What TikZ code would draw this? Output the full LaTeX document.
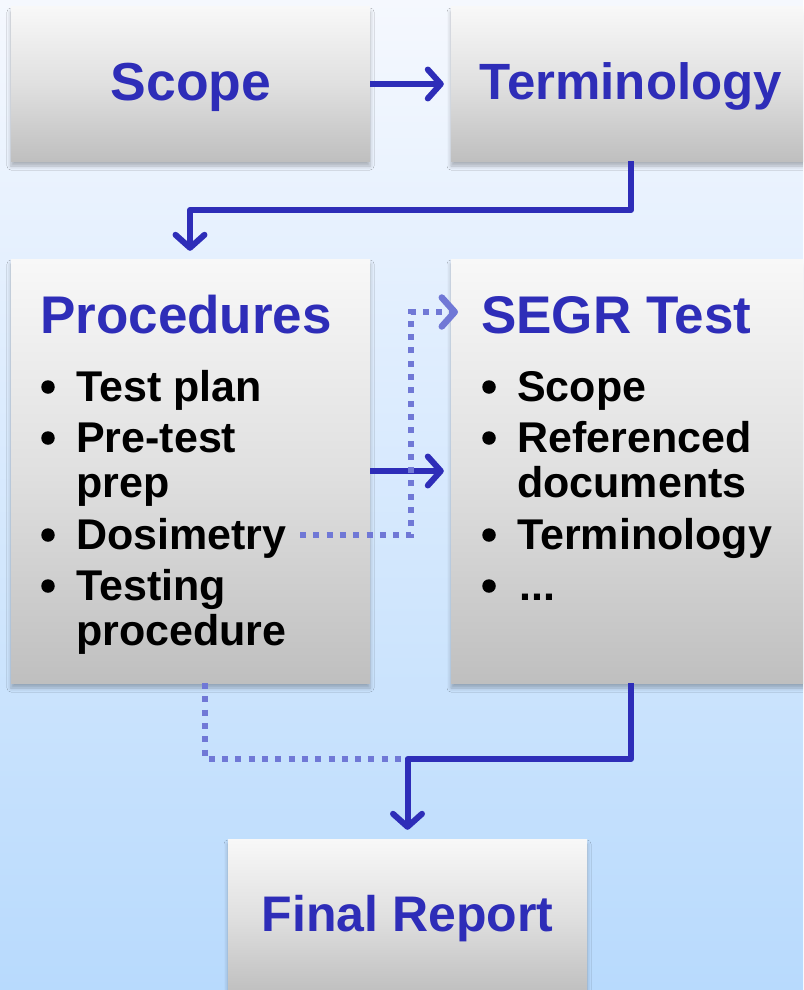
\documentclass[tikz,border=0pt]{standalone}
\usepackage{fontspec}
\setmainfont{Liberation Sans}
\usetikzlibrary{arrows.meta,shadows.blur}
\definecolor{navy}{RGB}{46,45,184}
\definecolor{dotblue}{RGB}{112,120,214}
\definecolor{bgtop}{RGB}{245,248,254}
\definecolor{bgbot}{RGB}{184,218,253}
\definecolor{boxtop}{RGB}{248,248,248}
\definecolor{boxmid}{RGB}{224,224,224}
\definecolor{boxbot}{RGB}{191,191,191}
\begin{document}
\begin{tikzpicture}[x=1pt,y=-1pt,
  box/.style={rectangle, inner sep=0pt, top color=boxtop, bottom color=boxbot, middle color=boxmid,
    blur shadow={shadow xshift=0pt, shadow yshift=-5pt, shadow blur radius=4pt, shadow blur extra rounding=0pt, shadow opacity=28}},
  title/.style={font=\fontsize{53}{60}\selectfont\bfseries, text=navy, inner sep=0pt, anchor=base},
  ltitle/.style={title, anchor=base west},
  item/.style={font=\fontsize{43}{48}\selectfont\bfseries, inner sep=0pt, anchor=base west},
  bul/.style={circle, fill=black, inner sep=0pt, minimum size=13.5pt},
  arr/.style={draw=navy, line width=6pt, line join=round, -{Straight Barb[length=13pt,width=29pt,round]}},
  dotln/.style={draw=dotblue, line width=6.5pt, dash pattern=on 6pt off 7.3pt},
  dotarr/.style={dotln, -{Straight Barb[length=13pt,width=29pt,round]}}
]
\useasboundingbox (0,0) rectangle (803,990);
\clip (0,0) rectangle (803,990);
\shade[top color=bgtop, bottom color=bgbot] (0,0) rectangle (803,990);

% boxes
\node[box, minimum width=359pt, minimum height=154pt] (scope) at (190.5,84) {};
\node[box, minimum width=360pt, minimum height=154pt] (term) at (631,84) {};
\node[box, minimum width=359pt, minimum height=424pt] (proc) at (190.5,471) {};
\node[box, minimum width=360pt, minimum height=424pt] (segr) at (631,471) {};
\node[box, minimum width=359pt, minimum height=154pt] (final) at (407.5,916) {};

% titles
\node[title, font=\fontsize{53.5}{60}\selectfont\bfseries] (tscope) at (191,100) {Scope};
\node[title, font=\fontsize{51}{60}\selectfont\bfseries] (tterm) at (631,99) {Terminology};
\node[ltitle] (tproc) at (40,333) {Procedures};
\node[ltitle] (tsegr) at (481,333) {SEGR Test};
\node[title, font=\fontsize{50}{60}\selectfont\bfseries] (tfinal) at (407.5,931) {Final Report};

% procedures items
\node[bul] (pb1) at (48,387) {};
\node[item] (p1) at (76,401) {Test plan};
\node[bul] (pb2) at (48,438) {};
\node[item] (p2) at (76,452) {Pre-test};
\node[item] (p2b) at (76,497) {prep};
\node[bul] (pb3) at (48,535) {};
\node[item] (p3) at (76,549) {Dosimetry};
\node[bul] (pb4) at (48,586) {};
\node[item] (p4) at (76,600) {Testing};
\node[item] (p4b) at (76,645) {procedure};

% segr items
\node[bul] (sb1) at (489,387) {};
\node[item] (s1) at (517,401) {Scope};
\node[bul] (sb2) at (489,438) {};
\node[item] (s2) at (517,452) {Referenced};
\node[item] (s2b) at (517,497) {documents};
\node[bul] (sb3) at (489,535) {};
\node[item] (s3) at (517,549) {Terminology};
\node[bul] (sb4) at (489,586) {};
\node[item] (s4) at (519,600) {...};

% coordinates
\coordinate (c1) at (631,210);
\coordinate (c2) at (190,210);
\coordinate (d0) at (300,535);
\coordinate (d1) at (411,535);
\coordinate (d2) at (411,312);
\coordinate (d3) at (458,312);
\coordinate (e0) at (205,683);
\coordinate (e1) at (205,759);
\coordinate (e2) at (407,759);
\coordinate (f1) at (631,759);

% connectors
\draw[arr, shorten >=7pt] (scope.east) -- (term.west);
\draw[arr, shorten >=8pt] (term.south) -- (c1) -- (c2) -- (c2 |- proc.north);
\draw[arr, shorten >=7pt] (proc.east |- segr.west) -- (segr.west);
\draw[dotarr] (d0) -- (d1) -- (d2) -- (d3);
\draw[dotln] (e0) -- (e1) -- (e2);
\draw[arr, shorten >=9pt] (segr.south) -- (f1) -- (f1 -| final.north) -- (final.north);
\end{tikzpicture}
\end{document}
